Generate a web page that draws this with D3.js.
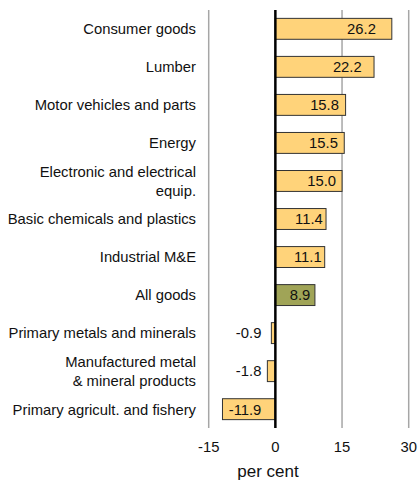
<!DOCTYPE html>
<html>
<head>
<meta charset="utf-8">
<script src="https://cdn.jsdelivr.net/npm/d3@7"></script>
<style>
	body { margin: 0; background: #fff; }
	svg text { font-family: "Liberation Sans", Arial, sans-serif; fill: #111; }
</style>
</head>
<body>
<div id="chart"></div>
<script>
const categories = [
	['Consumer goods'],
	['Lumber'],
	['Motor vehicles and parts'],
	['Energy'],
	['Electronic and electrical', 'equip.'],
	['Basic chemicals and plastics'],
	['Industrial M&E'],
	['All goods'],
	['Primary metals and minerals'],
	['Manufactured metal', '& mineral products'],
	['Primary agricult. and fishery']
]
const values = [26.2, 22.2, 15.8, 15.5, 15.0, 11.4, 11.1, 8.9, -0.9, -1.8, -11.9]
const ticks = [-15, 0, 15, 30]
const highlight = 'All goods'

const width = 418, height = 480
const svg = d3.select('#chart').append('svg')
	.attr('width', width)
	.attr('height', height)

const x = d3.scaleLinear().domain([-15, 30]).range([208.7, 408.7])
const y = d3.scaleBand()
	.domain(categories.map((d, i) => i))
	.range([10, 428])
	.paddingInner(0.45)
	.paddingOuter(0.22)

// gridlines
svg.append('g').selectAll('line')
	.data(ticks.filter(t => t !== 0))
	.enter().append('line')
		.attr('x1', d => x(d)).attr('x2', d => x(d))
		.attr('y1', 10).attr('y2', 428)
		.attr('stroke', '#a6a6a6')
		.attr('stroke-width', 1.5)

// bars
svg.append('g').selectAll('rect')
	.data(values)
	.enter().append('rect')
		.attr('x', d => x(Math.min(0, d)))
		.attr('y', (d, i) => y(i))
		.attr('width', d => Math.abs(x(d) - x(0)))
		.attr('height', y.bandwidth())
		.attr('fill', (d, i) => categories[i][0] === highlight ? '#a0a457' : '#ffd37a')
		.attr('stroke', '#333')
		.attr('stroke-width', 1)

// zero line
svg.append('line')
	.attr('x1', x(0)).attr('x2', x(0))
	.attr('y1', 10).attr('y2', 428)
	.attr('stroke', '#000')
	.attr('stroke-width', 2.5)

// value labels
svg.append('g').selectAll('text')
	.data(values)
	.enter().append('text')
		.attr('x', d => d >= 0 ? x(d * 0.8) - 7 : x(0) - 14)
		.attr('y', (d, i) => y(i) + y.bandwidth() / 2)
		.attr('dy', '0.36em')
		.attr('text-anchor', d => d >= 0 ? 'middle' : 'end')
		.attr('font-size', 14.8)
		.text(d => d.toFixed(1))

// category labels
const catLabels = svg.append('g').selectAll('text')
	.data(categories)
	.enter().append('text')
		.attr('text-anchor', 'end')
		.attr('font-size', 14.8)
		.attr('x', 196)
		.attr('y', (d, i) => y(i) + y.bandwidth() / 2 - (d.length - 1) * 9.5)

catLabels.selectAll('tspan')
	.data(d => d)
	.enter().append('tspan')
		.attr('x', 196)
		.attr('dy', (d, i) => i === 0 ? '0.36em' : 19)
		.text(d => d)

// x axis labels
svg.append('g').selectAll('text')
	.data(ticks)
	.enter().append('text')
		.attr('x', d => x(d))
		.attr('y', 447)
		.attr('dy', '0.36em')
		.attr('text-anchor', 'middle')
		.attr('font-size', 14.8)
		.text(d => d)

svg.append('text')
	.attr('x', 268)
	.attr('y', 471)
	.attr('dy', '0.36em')
	.attr('text-anchor', 'middle')
	.attr('font-size', 17)
	.text('per cent')
</script>
</body>
</html>
